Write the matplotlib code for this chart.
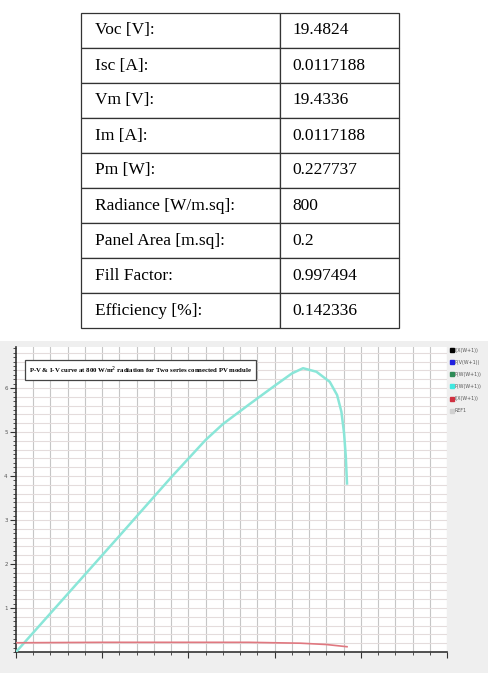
import numpy as np
import matplotlib.pyplot as plt
from matplotlib.lines import Line2D
from matplotlib.patches import Rectangle
from matplotlib.ticker import MultipleLocator, NullFormatter

# table values
row_names = ['Voc [V]:', 'Isc [A]:', 'Vm [V]:', 'Im [A]:', 'Pm [W]:',
             'Radiance [W/m.sq]:', 'Panel Area [m.sq]:', 'Fill Factor:',
             'Efficiency [%]:']
row_values = ['19.4824', '0.0117188', '19.4336', '0.0117188', '0.227737',
              '800', '0.2', '0.997494', '0.142336']

# P-V curve (cyan)
v_p = [0, 6, 12, 18, 22, 24, 27, 30, 32, 33.3, 34.85, 36.4, 37.25,
       37.75, 38.06, 38.26, 38.4]
p_vals = [0, 1.32, 2.64, 3.97, 4.82, 5.18, 5.62, 6.05, 6.33, 6.45, 6.37, 6.14,
          5.84, 5.46, 4.97, 4.44, 3.83]

# I-V curve (red)
v_i = [0, 10, 20, 27, 33, 36, 38.4]
i_vals = [0.21, 0.22, 0.22, 0.22, 0.20, 0.17, 0.12]

legend_labels = ['I(X(W+1))', 'P(V(W+1))', 'P(W(W+1))', 'P(W(W+1))',
                 'I(X(W+1))', 'REF1']
legend_colors = ['#000000', '#2020e0', '#2e8b57', '#40e8e0', '#d03040', '#d0d0d0']

W, H = 489, 673
fig = plt.figure(figsize=(W / 100, H / 100), dpi=100)
fig.patch.set_facecolor('white')

# gray screenshot background
fig.add_artist(Rectangle((0, 0), 1, (H - 341) / H, transform=fig.transFigure,
                         facecolor='#efefef', edgecolor='none', zorder=0))

# ---- table ----
tx0, tx1, ty0, ty1 = 81, 399, 13, 328
tab_ax = fig.add_axes([tx0 / W, 1 - ty1 / H, (tx1 - tx0) / W, (ty1 - ty0) / H])
tab_ax.axis('off')
cells = [[n, v] for n, v in zip(row_names, row_values)]
tbl = tab_ax.table(cellText=cells, colWidths=[0.626, 0.374], cellLoc='left',
                   bbox=[0, 0, 1, 1])
tbl.auto_set_font_size(False)
for (r, c), cell in tbl.get_celld().items():
    cell.set_edgecolor('#333333')
    cell.set_linewidth(0.9)
    cell.PAD = 0.07 if c == 0 else 0.1
    cell.get_text().set_fontfamily('Liberation Serif')
    cell.get_text().set_fontsize(12.5)

# ---- chart ----
ax = fig.add_axes([16 / W, (H - 652) / H, (447 - 16) / W, (652 - 347) / H])
ax.set_facecolor('white')
ax.plot(v_p, p_vals, color='#8ae6d8', lw=1.8, zorder=3)
ax.plot(v_i, i_vals, color='#e07880', lw=1.2, zorder=3)

ax.set_xlim(0, 50)
ax.set_ylim(0, (652 - 347) / 44)
ax.xaxis.set_major_locator(MultipleLocator(10))
ax.xaxis.set_minor_locator(MultipleLocator(2))
ax.yaxis.set_major_locator(MultipleLocator(1))
ax.yaxis.set_minor_locator(MultipleLocator(0.1))
ax.xaxis.set_major_formatter(NullFormatter())
ax.set_yticks(range(1, 7))
ax.set_yticklabels([str(k) for k in range(1, 7)], fontsize=4, color='#555555')

for gx in np.arange(2, 50.1, 2):
    ax.axvline(gx, color='#c6c6c6', lw=0.8, zorder=1)
for gy in np.arange(0.2, 7, 0.2):
    ax.axhline(gy, color='#e4dcdc', lw=0.8, zorder=1)

ax.tick_params(axis='both', which='major', length=4, width=0.8, color='#333333', pad=2)
ax.tick_params(axis='both', which='minor', length=2, width=0.6, color='#333333')
for s in ['top', 'right']:
    ax.spines[s].set_visible(False)
for s in ['left', 'bottom']:
    ax.spines[s].set_color('#333333')
    ax.spines[s].set_linewidth(1.2)

ax.text(0.03, 0.925, 'P-V & I-V curve at 800 W/m$^2$ radiation for Two series connected PV module',
        transform=ax.transAxes, fontsize=4.9, fontweight='bold',
        family='Liberation Serif', va='center', ha='left', zorder=5,
        bbox=dict(boxstyle='square,pad=0.6', facecolor='white',
                  edgecolor='#444444', lw=0.9))

handles = [Line2D([], [], marker='s', ls='none', color=c, markersize=2.5)
           for c in legend_colors]
fig.legend(handles, legend_labels, loc='upper left',
           bbox_to_anchor=(448 / W, 1 - 346 / H), frameon=False,
           fontsize=3.4, handletextpad=0.2, labelspacing=1.5,
           handlelength=0.8, borderaxespad=0, labelcolor='#555555')

plt.savefig('out.png', dpi=100)
